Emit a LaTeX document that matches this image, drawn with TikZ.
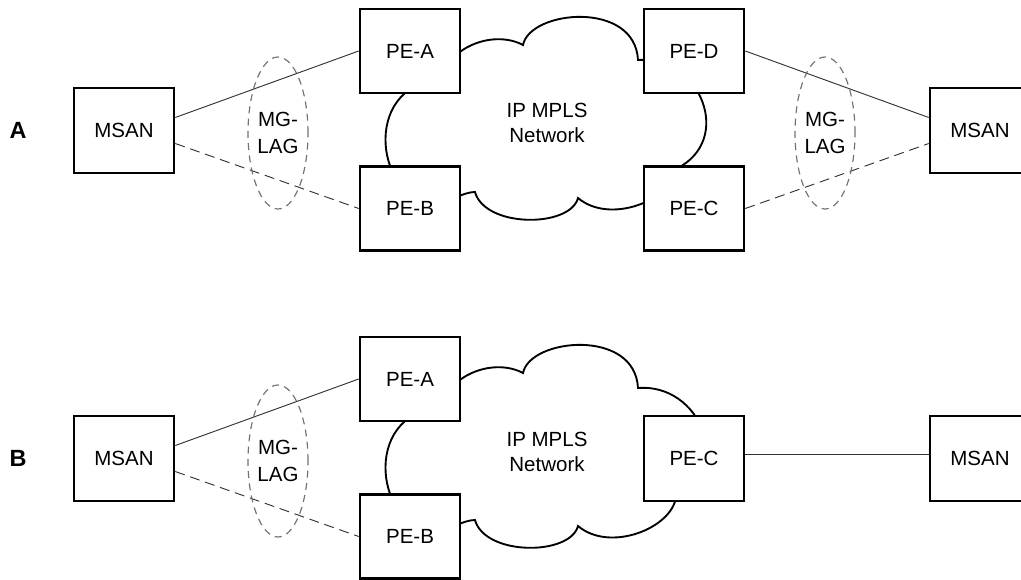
\documentclass[tikz,border=0pt]{standalone}
\usepackage{fontspec}
\setmainfont{Liberation Sans}
\usetikzlibrary{shapes.geometric}
\tikzset{
  box/.style={draw=black, line width=2.2pt, fill=white, minimum width=3cm, minimum height=2.52cm, inner sep=0pt, font=\fontsize{17.5}{21}\selectfont},
  lag/.style={draw=black!55, dash pattern=on 6pt off 4.5pt, line width=1pt, ellipse, minimum width=1.8cm, minimum height=4.56cm, inner sep=0pt, align=center, font=\fontsize{17.5}{23.5}\selectfont},
  link/.style={draw=black!80, line width=0.8pt},
  dlink/.style={draw=black!80, line width=0.8pt, dash pattern=on 8.5pt off 5pt},
  cloudline/.style={draw=black, line width=1.6pt},
  txt/.style={align=center, inner sep=0pt, font=\fontsize{17.5}{21.5}\selectfont},
  lbl/.style={inner sep=0pt, font=\fontsize{20}{24}\selectfont\bfseries}
}
\newcommand\mycloud{(440,80) .. controls (450,45) and (495,30) .. (523,45)
  .. controls (530,10) and (635,0) .. (638,60)
  .. controls (700,55) and (735,140) .. (676,169)
  .. controls (672,200) and (610,225) .. (578,198)
  .. controls (570,228) and (485,228) .. (475,192)
  .. controls (465,192) and (450,200) .. (440,205)
  .. controls (375,205) and (360,85) .. (440,80) -- cycle}
\begin{document}
\begin{tikzpicture}[x=0.03cm, y=-0.03cm]
\useasboundingbox (0,0) rectangle (1021,579);
% ---------- A ----------
\draw[cloudline] \mycloud;
\node[txt] (netA) at (547,123) {IP MPLS\\Network};
\node[lbl] (labA) at (18,130) {A};
\node[box, minimum height=2.55cm] (msanA) at (124,130.5) {MSAN};
\node[box] (peaA) at (410,51) {PE-A};
\node[box] (pebA) at (410,208.5) {PE-B};
\node[box] (pedA) at (694,51) {PE-D};
\node[box] (pecA) at (694,208.5) {PE-C};
\node[box, minimum height=2.55cm] (msanA2) at (980,130.5) {MSAN};
\draw[link] ([yshift=0.39cm]msanA.east) -- (peaA.west);
\draw[dlink] ([yshift=-0.39cm]msanA.east) -- (pebA.west);
\draw[link] (pedA.east) -- ([yshift=0.39cm]msanA2.west);
\draw[dlink] (pecA.east) -- ([yshift=-0.39cm]msanA2.west);
\node[lag] (lagA1) at (278,133) {MG-\\LAG};
\node[lag] (lagA2) at (825,133) {MG-\\LAG};
% ---------- B ----------
\begin{scope}[shift={(0,328)}]
\draw[cloudline] \mycloud;
\end{scope}
\node[txt] (netB) at (547,452) {IP MPLS\\Network};
\node[lbl] (labB) at (18,458) {B};
\node[box, minimum height=2.55cm] (msanB) at (124,458.5) {MSAN};
\node[box] (peaB) at (410,379) {PE-A};
\node[box] (pebB) at (410,536.5) {PE-B};
\node[box, minimum height=2.55cm] (pecB) at (694,458.5) {PE-C};
\node[box, minimum height=2.55cm] (msanB2) at (980,458.5) {MSAN};
\draw[link] ([yshift=0.39cm]msanB.east) -- (peaB.west);
\draw[dlink] ([yshift=-0.39cm]msanB.east) -- (pebB.west);
\draw[link] ([yshift=0.12cm]pecB.east) -- ([yshift=0.12cm]msanB2.west);
\node[lag] (lagB1) at (278,461) {MG-\\LAG};
\end{tikzpicture}
\end{document}
